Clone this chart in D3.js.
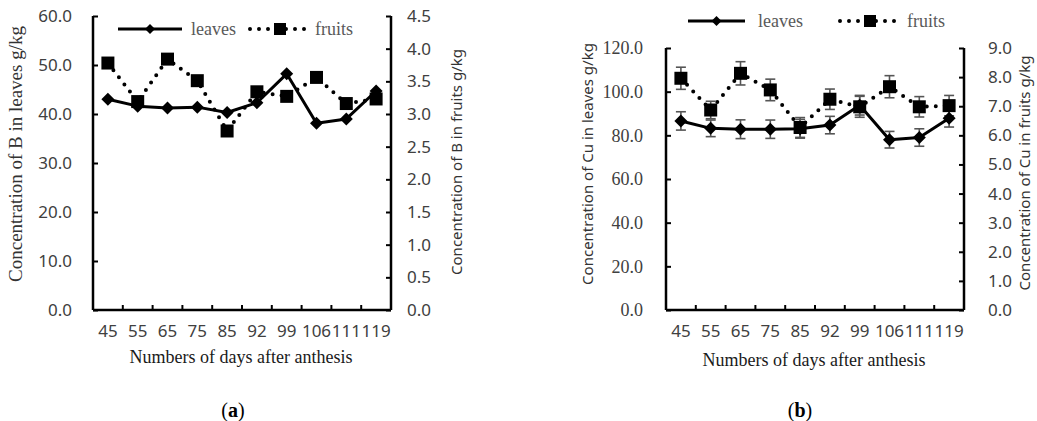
<!DOCTYPE html>
<html>
<head>
<meta charset="utf-8">
<script src="https://cdn.jsdelivr.net/npm/d3@7"></script>
<style>
  body { margin: 0; background: #fff; }
  svg { display: block; }
</style>
</head>
<body>
<svg id="canvas" width="1037" height="421"></svg>
<script>
'use strict';

// days after anthesis
var days = ['45', '55', '65', '75', '85', '92', '99', '106', '111', '119'];

// (a) boron
var bLeaves = [43.0, 41.6, 41.2, 41.4, 40.3, 42.3, 48.2, 38.1, 39.0, 44.7];
var bFruits = [3.78, 3.19, 3.84, 3.51, 2.74, 3.34, 3.27, 3.56, 3.16, 3.23];
var bLeftTicks = [0, 10, 20, 30, 40, 50, 60];
var bRightTicks = [0, 0.5, 1, 1.5, 2, 2.5, 3, 3.5, 4, 4.5];

// (b) copper
var cuLeaves = [86.6, 83.2, 82.8, 82.8, 83.0, 84.7, 93.8, 78.0, 79.0, 87.8];
var cuLeavesErr = [4.2, 3.8, 4.3, 4.2, 4.3, 4.0, 4.5, 3.8, 4.0, 4.0];
var cuFruits = [7.96, 6.87, 8.13, 7.56, 6.27, 7.24, 6.98, 7.67, 6.98, 7.02];
var cuFruitsErr = [0.38, 0.3, 0.4, 0.37, 0.34, 0.35, 0.36, 0.38, 0.35, 0.35];
var cuLeftTicks = [0, 20, 40, 60, 80, 100, 120];
var cuRightTicks = [0, 1, 2, 3, 4, 5, 6, 7, 8, 9];

var SANS = '"Noto Sans", "DejaVu Sans", sans-serif';
var SERIF = '"Liberation Serif", "DejaVu Serif", serif';
var TICK_COLOR = '#404040';

function DiamondPath(r) {
  return 'M0,' + (-r) + 'L' + r + ',0L0,' + r + 'L' + (-r) + ',0Z';
}

function SquarePath(h) {
  return 'M' + (-h) + ',' + (-h) + 'H' + h + 'V' + h + 'H' + (-h) + 'Z';
}

function DrawPanel(svg, cfg) {
  var g = svg.append('g');
  var x = d3.scaleBand().domain(days).range([cfg.left, cfg.right]);
  var yL = d3.scaleLinear().domain(cfg.leftDomain).range([cfg.bottom, cfg.top]);
  var yR = d3.scaleLinear().domain(cfg.rightDomain).range([cfg.bottom, cfg.top]);
  var cx = function(d) { return x(d) + x.bandwidth() / 2; };

  // left axis, ticks pointing inward
  var axL = g.append('g')
      .attr('transform', 'translate(' + cfg.left + ',0)')
      .call(d3.axisLeft(yL).tickValues(cfg.leftTicks).tickSize(-5)
        .tickPadding(cfg.leftPad).tickFormat(d3.format('.1f')));
  // right axis
  var axR = g.append('g')
      .attr('transform', 'translate(' + cfg.right + ',0)')
      .call(d3.axisRight(yR).tickValues(cfg.rightTicks).tickSize(-5)
        .tickPadding(cfg.rightPad).tickFormat(d3.format('.1f')));
  // bottom axis: labels at the band centers
  var axB = g.append('g')
      .attr('transform', 'translate(0,' + cfg.bottom + ')')
      .call(d3.axisBottom(x).tickSize(0).tickPadding(15));
  axB.selectAll('.tick line').remove();
  // ticks between categories
  axB.selectAll('line.sep')
      .data(days.slice(1))
    .enter().append('line')
      .attr('class', 'sep')
      .attr('x1', function(d) { return x(d); })
      .attr('x2', function(d) { return x(d); })
      .attr('y1', 0)
      .attr('y2', -5);

  [axL, axR, axB].forEach(function(ax) {
    ax.selectAll('.domain').attr('stroke', '#000').attr('stroke-width', 2.5);
    ax.selectAll('line').attr('stroke', '#000').attr('stroke-width', 2);
    ax.selectAll('text')
      .attr('font-family', SANS)
      .attr('font-size', 17)
      .attr('fill', TICK_COLOR);
  });
  // plain domain lines without end stubs
  axL.select('.domain').attr('d', 'M0,' + cfg.bottom + 'V' + cfg.top);
  axR.select('.domain').attr('d', 'M0,' + cfg.bottom + 'V' + cfg.top);
  axB.select('.domain').attr('d', 'M' + cfg.left + ',0H' + cfg.right);
  if (cfg.leftFont) {
    axL.selectAll('text').attr('font-family', cfg.leftFont).attr('font-size', cfg.leftFontSize);
  }

  var lineR = d3.line()
      .x(function(d, i) { return cx(days[i]); })
      .y(function(d) { return yR(d); });
  var lineL = d3.line()
      .x(function(d, i) { return cx(days[i]); })
      .y(function(d) { return yL(d); });

  // fruits: round-dot line on the right axis
  g.append('path')
      .datum(cfg.fruits)
      .attr('d', lineR)
      .attr('fill', 'none')
      .attr('stroke', '#000')
      .attr('stroke-width', 4)
      .attr('stroke-linecap', 'round')
      .attr('stroke-dasharray', '0,9');

  g.append('path')
      .datum(cfg.leaves)
      .attr('d', lineL)
      .attr('fill', 'none')
      .attr('stroke', '#000')
      .attr('stroke-width', 3)
      .attr('stroke-linejoin', 'round');

  function ErrorBars(values, errs, y) {
    var eb = g.append('g').selectAll('g')
        .data(values)
      .enter().append('g')
        .attr('stroke', '#555')
        .attr('stroke-width', 1.6);
    eb.append('line')
        .attr('x1', function(d, i) { return cx(days[i]); })
        .attr('x2', function(d, i) { return cx(days[i]); })
        .attr('y1', function(d, i) { return y(d - errs[i]); })
        .attr('y2', function(d, i) { return y(d + errs[i]); });
    [-1, 1].forEach(function(s) {
      eb.append('line')
          .attr('x1', function(d, i) { return cx(days[i]) - 5; })
          .attr('x2', function(d, i) { return cx(days[i]) + 5; })
          .attr('y1', function(d, i) { return y(d + s * errs[i]); })
          .attr('y2', function(d, i) { return y(d + s * errs[i]); });
    });
  }
  if (cfg.fruitsErr) ErrorBars(cfg.fruits, cfg.fruitsErr, yR);
  if (cfg.leavesErr) ErrorBars(cfg.leaves, cfg.leavesErr, yL);

  g.append('g').selectAll('path')
      .data(cfg.fruits)
    .enter().append('path')
      .attr('d', SquarePath(6.5))
      .attr('transform', function(d, i) {
        return 'translate(' + [cx(days[i]), yR(d)] + ')';
      })
      .attr('fill', '#000');

  g.append('g').selectAll('path')
      .data(cfg.leaves)
    .enter().append('path')
      .attr('d', DiamondPath(6.5))
      .attr('transform', function(d, i) {
        return 'translate(' + [cx(days[i]), yL(d)] + ')';
      })
      .attr('fill', '#000');

  // legend
  var lg = g.append('g');
  lg.append('line')
      .attr('x1', cfg.legend.l1[0]).attr('x2', cfg.legend.l1[1])
      .attr('y1', cfg.legend.y).attr('y2', cfg.legend.y)
      .attr('stroke', '#000').attr('stroke-width', 3);
  lg.append('path')
      .attr('d', DiamondPath(5))
      .attr('transform', 'translate(' + [(cfg.legend.l1[0] + cfg.legend.l1[1]) / 2, cfg.legend.y] + ')');
  lg.append('line')
      .attr('x1', cfg.legend.l2[0]).attr('x2', cfg.legend.l2[1])
      .attr('y1', cfg.legend.y).attr('y2', cfg.legend.y)
      .attr('stroke', '#000').attr('stroke-width', 4)
      .attr('stroke-linecap', 'round').attr('stroke-dasharray', '0,9');
  lg.append('path')
      .attr('d', SquarePath(6))
      .attr('transform', 'translate(' + [(cfg.legend.l2[0] + cfg.legend.l2[1]) / 2, cfg.legend.y] + ')');
  lg.selectAll('text')
      .data([['leaves', cfg.legend.t1], ['fruits', cfg.legend.t2]])
    .enter().append('text')
      .attr('x', function(d) { return d[1]; })
      .attr('y', cfg.legend.y)
      .attr('dy', '0.32em')
      .attr('font-family', SERIF)
      .attr('font-size', 18)
      .attr('fill', '#595959')
      .text(function(d) { return d[0]; });

  // titles
  g.append('text')
      .attr('x', cfg.xTitle[0]).attr('y', cfg.xTitle[1])
      .attr('text-anchor', 'middle').attr('dy', '0.35em')
      .attr('font-family', SERIF).attr('font-size', 18).attr('fill', '#1a1a1a')
      .text('Numbers of days after anthesis');
  g.append('text')
      .attr('transform', 'translate(' + cfg.yLTitle + ') rotate(-90)')
      .attr('text-anchor', 'middle').attr('dy', '0.35em')
      .attr('font-family', cfg.yLTitleFont).attr('font-size', cfg.yLTitleSize).attr('fill', '#333')
      .text(cfg.yLText);
  g.append('text')
      .attr('transform', 'translate(' + cfg.yRTitle + ') rotate(-90)')
      .attr('text-anchor', 'middle').attr('dy', '0.35em')
      .attr('font-family', SANS).attr('font-size', 15).attr('fill', '#333')
      .text(cfg.yRText);
  g.append('text')
      .attr('x', cfg.caption[0]).attr('y', cfg.caption[1])
      .attr('text-anchor', 'middle').attr('dy', '0.35em')
      .attr('font-family', SERIF).attr('font-size', 20).attr('fill', '#000')
      .html('(<tspan font-weight="bold">' + cfg.captionText + '</tspan>)');
}

function Main() {
  var svg = d3.select('#canvas');
  DrawPanel(svg, {
    left: 93, right: 391, top: 16, bottom: 310,
    leftDomain: [0, 60], rightDomain: [0, 4.5],
    leftTicks: bLeftTicks, rightTicks: bRightTicks,
    leftPad: 21, rightPad: 16,
    leaves: bLeaves, fruits: bFruits,
    legend: { y: 29, l1: [118, 182], t1: 191, l2: [250, 310], t2: 315 },
    xTitle: [241, 357],
    yLTitle: [15, 154], yLTitleFont: SERIF, yLTitleSize: 19,
    yLText: 'Concentration of B in leaves g/kg',
    yRTitle: [457, 162], yRText: 'Concentration of B in fruits g/kg',
    caption: [233, 410], captionText: 'a'
  });
  DrawPanel(svg, {
    left: 666, right: 964, top: 48, bottom: 310,
    leftDomain: [0, 120], rightDomain: [0, 9],
    leftTicks: cuLeftTicks, rightTicks: cuRightTicks,
    leftPad: 23, rightPad: 24,
    leftFont: SERIF, leftFontSize: 18,
    leaves: cuLeaves, fruits: cuFruits,
    leavesErr: cuLeavesErr, fruitsErr: cuFruitsErr,
    legend: { y: 21, l1: [688, 745], t1: 758, l2: [840, 900], t2: 907 },
    xTitle: [814, 360],
    yLTitle: [588, 164], yLTitleFont: SANS, yLTitleSize: 15,
    yLText: 'Concentration of Cu in leaves g/kg',
    yRTitle: [1025, 173], yRText: 'Concentration of Cu in fruits g/kg',
    caption: [800, 410], captionText: 'b'
  });
}

Main();
</script>
</body>
</html>
